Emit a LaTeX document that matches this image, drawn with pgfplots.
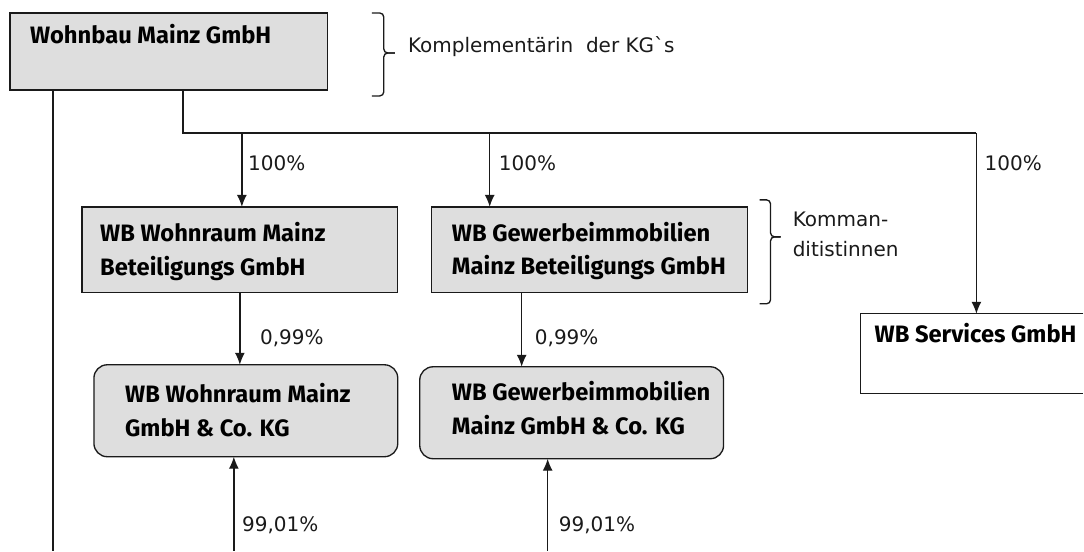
\documentclass[border=0pt]{standalone}
\usepackage{fontspec}
\setmainfont{DejaVu Sans}
\newfontfamily\boxfont{Fira Sans}
\usepackage{pgfplots}
\pgfplotsset{compat=1.18}
\usetikzlibrary{arrows.meta}
\definecolor{boxgray}{HTML}{DEDEDE}
\definecolor{ln}{HTML}{1A1A1A}
\tikzset{
  lbl/.style={font=\fontsize{15pt}{18pt}\selectfont, anchor=base west, inner sep=0pt, text=ln},
  bx/.style={font=\boxfont\bfseries\fontsize{17.8pt}{20pt}\selectfont, anchor=base west, inner sep=0pt},
  arr/.style={-{Latex[length=9pt,width=7.5pt]}},
}
\begin{document}
\begin{tikzpicture}
\begin{axis}[
  scale only axis, width=813pt, height=413.25pt,
  xmin=0, xmax=1084, ymin=0, ymax=551, y dir=reverse,
  hide axis, clip=false,
]
\path (rel axis cs:0,0) rectangle (rel axis cs:1,1);
% boxes
\addplot[fill=boxgray, draw=ln, line width=1pt] coordinates {(10,13) (328,13) (328,90) (10,90) (10,13)} -- cycle;
\addplot[fill=boxgray, draw=ln, line width=1pt] coordinates {(82,207) (398,207) (398,293) (82,293) (82,207)} -- cycle;
\addplot[fill=boxgray, draw=ln, line width=1pt] coordinates {(432,207) (748,207) (748,293) (432,293) (432,207)} -- cycle;
\addplot[fill=boxgray, draw=ln, line width=1pt, rounded corners=10pt] coordinates {(250,365) (398,365) (398,457) (94,457) (94,365) (250,365)};
\addplot[fill=boxgray, draw=ln, line width=1pt, rounded corners=10pt] coordinates {(570,367) (724,367) (724,459) (420,459) (420,367) (570,367)};
\addplot[draw=ln, line width=1pt] coordinates {(1084,314) (861,314) (861,394) (1084,394)};
% connectors
\addplot[draw=ln, line width=1pt] coordinates {(53,90) (53,551)};
\addplot[draw=ln, line width=1pt] coordinates {(183,90) (183,133) (977,133)};
\addplot[draw=ln, line width=1pt, arr] coordinates {(977,133) (977,314)};
\addplot[draw=ln, line width=1pt, arr] coordinates {(242,133) (242,207)};
\addplot[draw=ln, line width=1pt, arr] coordinates {(490,133) (490,207)};
\addplot[draw=ln, line width=1pt, arr] coordinates {(240,293) (240,365)};
\addplot[draw=ln, line width=1pt, arr] coordinates {(522,293) (522,367)};
\addplot[draw=ln, line width=1pt, arr] coordinates {(234,551) (234,457)};
\addplot[draw=ln, line width=1pt, arr] coordinates {(548,551) (548,459)};
% braces
\addplot[draw=ln, line width=1pt, rounded corners=3pt] coordinates {(372,13) (384,13) (384,53) (395,53)};
\addplot[draw=ln, line width=1pt, rounded corners=3pt] coordinates {(395,53) (384,53) (384,96) (372,96)};
\addplot[draw=ln, line width=1pt, rounded corners=3pt] coordinates {(760,200) (771,200) (771,237) (781,237)};
\addplot[draw=ln, line width=1pt, rounded corners=3pt] coordinates {(781,237) (771,237) (771,304) (760,304)};
% box texts
\node[bx] at (axis cs:30,44) {Wohnbau Mainz GmbH};
\node[bx] at (axis cs:100,242) {WB Wohnraum Mainz};
\node[bx] at (axis cs:100,276) {Beteiligungs GmbH};
\node[bx] at (axis cs:452,242) {WB Gewerbeimmobilien};
\node[bx] at (axis cs:452,275) {Mainz Beteiligungs GmbH};
\node[bx] at (axis cs:125,403) {WB Wohnraum Mainz};
\node[bx] at (axis cs:125,437) {GmbH \& Co. KG};
\node[bx] at (axis cs:452,401) {WB Gewerbeimmobilien};
\node[bx] at (axis cs:452,435) {Mainz GmbH \& Co. KG};
\node[bx] at (axis cs:875,343) {WB Services GmbH};
% labels
\node[lbl] at (axis cs:408,53) {Komplementärin\ \ der KGˋs};
\node[lbl] at (axis cs:248,171) {100\%};
\node[lbl] at (axis cs:499,171) {100\%};
\node[lbl] at (axis cs:985,171) {100\%};
\node[lbl] at (axis cs:793,227) {Komman-};
\node[lbl] at (axis cs:793,257) {ditistinnen};
\node[lbl] at (axis cs:260,345) {0,99\%};
\node[lbl] at (axis cs:535,345) {0,99\%};
\node[lbl] at (axis cs:242,532) {99,01\%};
\node[lbl] at (axis cs:559,532) {99,01\%};
\end{axis}
\end{tikzpicture}
\end{document}
